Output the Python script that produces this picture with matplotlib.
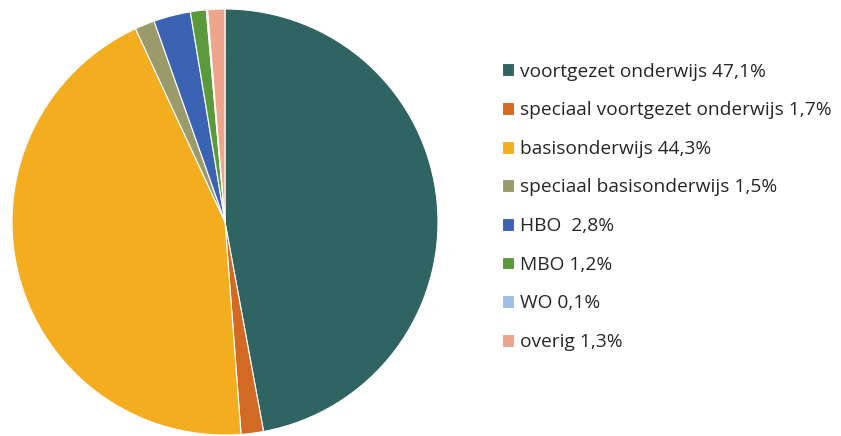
import matplotlib
matplotlib.use("Agg")
import matplotlib.pyplot as plt

labels = ["voortgezet onderwijs 47,1%", "speciaal voortgezet onderwijs 1,7%",
          "basisonderwijs 44,3%", "speciaal basisonderwijs 1,5%",
          "HBO  2,8%", "MBO 1,2%", "WO 0,1%", "overig 1,3%"]
values = [47.1, 1.7, 44.3, 1.5, 2.8, 1.2, 0.1, 1.3]
colors = ["#306462", "#d36a24", "#f4ad1e", "#9b9a6b", "#3c62b3", "#5b9a3a", "#9dbde2", "#eea58b"]

W, H = 841, 436
fig = plt.figure(figsize=(W/100, H/100), dpi=100)
cx, cy, r = 225, 222, 213
ax = fig.add_axes([(cx - r)/W, (H - cy - r)/H, 2*r/W, 2*r/H])
wedges, _ = ax.pie(values, colors=colors, startangle=90, counterclock=False,
                   wedgeprops=dict(edgecolor="white", linewidth=0.8))
ax.set_xlim(-1, 1); ax.set_ylim(-1, 1)
ax.set_aspect("equal")

leg = fig.legend(wedges, labels, loc="upper left", bbox_to_anchor=(494/W, 1 - 55/H),
                 frameon=False, prop=dict(family="Open Sans", size=13.8),
                 handlelength=0.66, handleheight=0.66, handletextpad=0.28,
                 labelspacing=1.075, borderaxespad=0)
for t in leg.get_texts():
    t.set_color("#262626")

fig.savefig("out.png", dpi=100)
